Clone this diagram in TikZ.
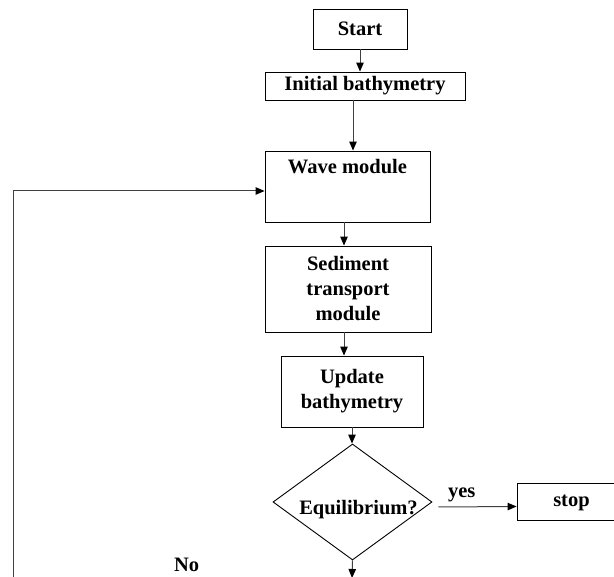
\documentclass[tikz,border=0pt]{standalone}
\usepackage{fontspec}
\setmainfont{Liberation Serif}
\usetikzlibrary{arrows.meta,shapes.geometric}
\begin{document}
\begin{tikzpicture}[x=1pt,y=-1pt,
  box/.style={draw=black,line width=0.9pt,rectangle,inner sep=0pt,align=center,
    font=\fontsize{20.5}{25}\selectfont\bfseries},
  txt/.style={font=\fontsize{20.5}{25}\selectfont\bfseries,inner sep=0pt},
  arr/.style={draw=black!75,line width=1pt,-{Triangle[length=9pt,width=7.5pt,color=black]}}]
\useasboundingbox (0,0) rectangle (614,577);
\node[box,minimum width=94,minimum height=40] (start) at (360,29) {Start};
\node[box,minimum width=200,minimum height=28] (init) at (365,86) {Initial bathymetry};
\node[box,minimum width=165,minimum height=71,
  label={[txt,anchor=north,yshift=-9pt]north:Wave module}] (wave) at (347.5,186.5) {};
\node[box,minimum width=166,minimum height=86] (sed) at (348,289) {Sediment\\transport\\module};
\node[box,minimum width=142,minimum height=71] (upd) at (352,391.5) {Update\\bathymetry};
\node[draw=black,line width=0.9pt,diamond,minimum width=159,minimum height=116,inner sep=0pt,
  label={[txt,xshift=6pt,yshift=-8pt]center:Equilibrium?}] (dec) at (352.5,502) {};
\node[box,minimum width=97,minimum height=37,
  label={[txt,xshift=6pt,yshift=-1pt]center:stop}] (stop) at (565.5,501.5) {};
\node[txt] (yes) at (461.7,495) {yes};
\node[txt] (no) at (186.7,565) {No};
\coordinate (loopstart) at (13,580);
\coordinate (outend) at (352,578);

\draw[arr] (start.south) -- (init.north -| start.south);
\draw[arr] ([xshift=-12pt]init.south) coordinate (p1) -- (p1 |- wave.north);
\draw[arr] ([xshift=-3.5pt]wave.south) coordinate (p2) -- (p2 |- sed.north);
\draw[arr] ([xshift=-4pt]sed.south) coordinate (p3) -- (p3 |- upd.north);
\draw[arr] (upd.south) -- (dec.north -| upd.south);
\draw[arr] ([xshift=6pt,yshift=-5pt]dec.east) -- ([yshift=-5pt]stop.west);
\draw[arr] (dec.south) -- (outend);
\draw[arr] (loopstart) |- ([yshift=-4.5pt]wave.west);
\end{tikzpicture}
\end{document}
